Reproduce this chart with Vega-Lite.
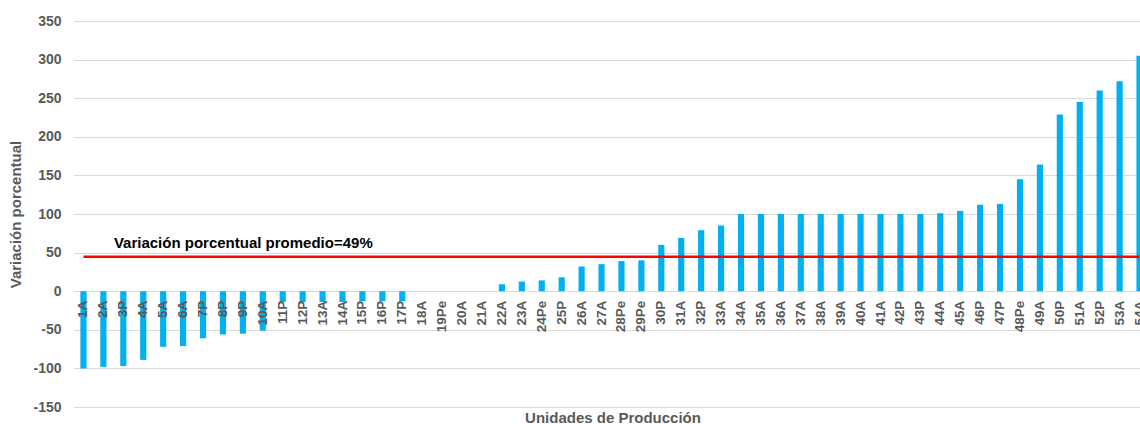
{
  "$schema": "https://vega.github.io/schema/vega-lite/v6.json",
  "autosize": {"type": "none"},
  "padding": {"left": 73.5, "top": 21, "right": 0, "bottom": 17},
  "width": 1066.5,
  "height": 386,
  "config": {
    "view": {"stroke": null},
    "font": "Liberation Sans",
    "background": "#ffffff"
  },
  "datasets": {
    "unidades": [
      {"unidad": "1A", "variacion": -100, "promedio": 44.5},
      {"unidad": "2A", "variacion": -98, "promedio": 44.5},
      {"unidad": "3P", "variacion": -97, "promedio": 44.5},
      {"unidad": "4A", "variacion": -89, "promedio": 44.5},
      {"unidad": "5A", "variacion": -72, "promedio": 44.5},
      {"unidad": "6A", "variacion": -71, "promedio": 44.5},
      {"unidad": "7P", "variacion": -61, "promedio": 44.5},
      {"unidad": "8P", "variacion": -56, "promedio": 44.5},
      {"unidad": "9P", "variacion": -55, "promedio": 44.5},
      {"unidad": "10A", "variacion": -51, "promedio": 44.5},
      {"unidad": "11P", "variacion": -14, "promedio": 44.5},
      {"unidad": "12P", "variacion": -14, "promedio": 44.5},
      {"unidad": "13A", "variacion": -14, "promedio": 44.5},
      {"unidad": "14A", "variacion": -14, "promedio": 44.5},
      {"unidad": "15P", "variacion": -13, "promedio": 44.5},
      {"unidad": "16P", "variacion": -13, "promedio": 44.5},
      {"unidad": "17P", "variacion": -13, "promedio": 44.5},
      {"unidad": "18A", "variacion": 0, "promedio": 44.5},
      {"unidad": "19Pe", "variacion": 0, "promedio": 44.5},
      {"unidad": "20A", "variacion": 0, "promedio": 44.5},
      {"unidad": "21A", "variacion": 0, "promedio": 44.5},
      {"unidad": "22A", "variacion": 9, "promedio": 44.5},
      {"unidad": "23A", "variacion": 12.5, "promedio": 44.5},
      {"unidad": "24Pe", "variacion": 14, "promedio": 44.5},
      {"unidad": "25P", "variacion": 18, "promedio": 44.5},
      {"unidad": "26A", "variacion": 32, "promedio": 44.5},
      {"unidad": "27A", "variacion": 35, "promedio": 44.5},
      {"unidad": "28Pe", "variacion": 39, "promedio": 44.5},
      {"unidad": "29Pe", "variacion": 40, "promedio": 44.5},
      {"unidad": "30P", "variacion": 60, "promedio": 44.5},
      {"unidad": "31A", "variacion": 69, "promedio": 44.5},
      {"unidad": "32P", "variacion": 79, "promedio": 44.5},
      {"unidad": "33A", "variacion": 85, "promedio": 44.5},
      {"unidad": "34A", "variacion": 100, "promedio": 44.5},
      {"unidad": "35A", "variacion": 100, "promedio": 44.5},
      {"unidad": "36A", "variacion": 100, "promedio": 44.5},
      {"unidad": "37A", "variacion": 100, "promedio": 44.5},
      {"unidad": "38A", "variacion": 100, "promedio": 44.5},
      {"unidad": "39A", "variacion": 100, "promedio": 44.5},
      {"unidad": "40A", "variacion": 100, "promedio": 44.5},
      {"unidad": "41A", "variacion": 100, "promedio": 44.5},
      {"unidad": "42P", "variacion": 100, "promedio": 44.5},
      {"unidad": "43P", "variacion": 100, "promedio": 44.5},
      {"unidad": "44A", "variacion": 101, "promedio": 44.5},
      {"unidad": "45A", "variacion": 104, "promedio": 44.5},
      {"unidad": "46P", "variacion": 112, "promedio": 44.5},
      {"unidad": "47P", "variacion": 113, "promedio": 44.5},
      {"unidad": "48Pe", "variacion": 145, "promedio": 44.5},
      {"unidad": "49A", "variacion": 164, "promedio": 44.5},
      {"unidad": "50P", "variacion": 229, "promedio": 44.5},
      {"unidad": "51A", "variacion": 245, "promedio": 44.5},
      {"unidad": "52P", "variacion": 260, "promedio": 44.5},
      {"unidad": "53A", "variacion": 272, "promedio": 44.5},
      {"unidad": "54A", "variacion": 305, "promedio": 44.5}
    ],
    "anotacion": [
      {"unidad": "2A", "valor": 56, "texto": "Variación porcentual promedio=49%"}
    ]
  },
  "encoding": {
    "x": {
      "field": "unidad",
      "type": "nominal",
      "sort": null,
      "scale": {"paddingInner": 0.69, "paddingOuter": 0.345, "range": [0, 1076]},
      "axis": {
        "offset": -115.8,
        "zindex": 1,
        "ticks": false,
        "domain": false,
        "grid": false,
        "labelAngle": -90,
        "labelAlign": "right",
        "labelBaseline": "middle",
        "labelPadding": 9,
        "labelOverlap": false,
        "labelFontSize": 13.5,
        "labelFontWeight": "bold",
        "labelColor": "#595959",
        "title": "Unidades de Producción",
        "titleFontSize": 15,
        "titleFontWeight": "bold",
        "titleColor": "#595959",
        "titleX": 539,
        "titleY": 131.3,
        "titleBaseline": "alphabetic",
        "titleAlign": "center"
      }
    }
  },
  "layer": [
    {
      "data": {"name": "unidades"},
      "mark": {"type": "bar", "color": "#00b0f0"},
      "encoding": {
        "y": {
          "field": "variacion",
          "type": "quantitative",
          "scale": {"domain": [-150, 350], "nice": false, "zero": false},
          "axis": {
            "values": [-150, -100, -50, 0, 50, 100, 150, 200, 250, 300, 350],
            "tickCount": 30,
            "labelExpr": "toString(datum.value)",
            "labelOverlap": false,
            "ticks": false,
            "domain": false,
            "gridColor": "#d9d9d9",
            "gridWidth": 1.2,
            "labelPadding": 12.5,
            "labelFontSize": 14,
            "labelFontWeight": "bold",
            "labelColor": "#595959",
            "title": "Variación porcentual",
            "titleFontSize": 15,
            "titleFontWeight": "bold",
            "titleColor": "#595959",
            "titlePadding": 9
          }
        }
      }
    },
    {
      "data": {"name": "unidades"},
      "mark": {"type": "line", "color": "#ff0000", "strokeWidth": 2.5},
      "encoding": {
        "y": {"field": "promedio", "type": "quantitative"}
      }
    },
    {
      "data": {"name": "anotacion"},
      "mark": {"type": "text", "align": "left", "baseline": "alphabetic", "dx": 10.5, "fontSize": 15, "fontWeight": "bold", "color": "#000000"},
      "encoding": {
        "y": {"field": "valor", "type": "quantitative"},
        "text": {"field": "texto"}
      }
    }
  ]
}
